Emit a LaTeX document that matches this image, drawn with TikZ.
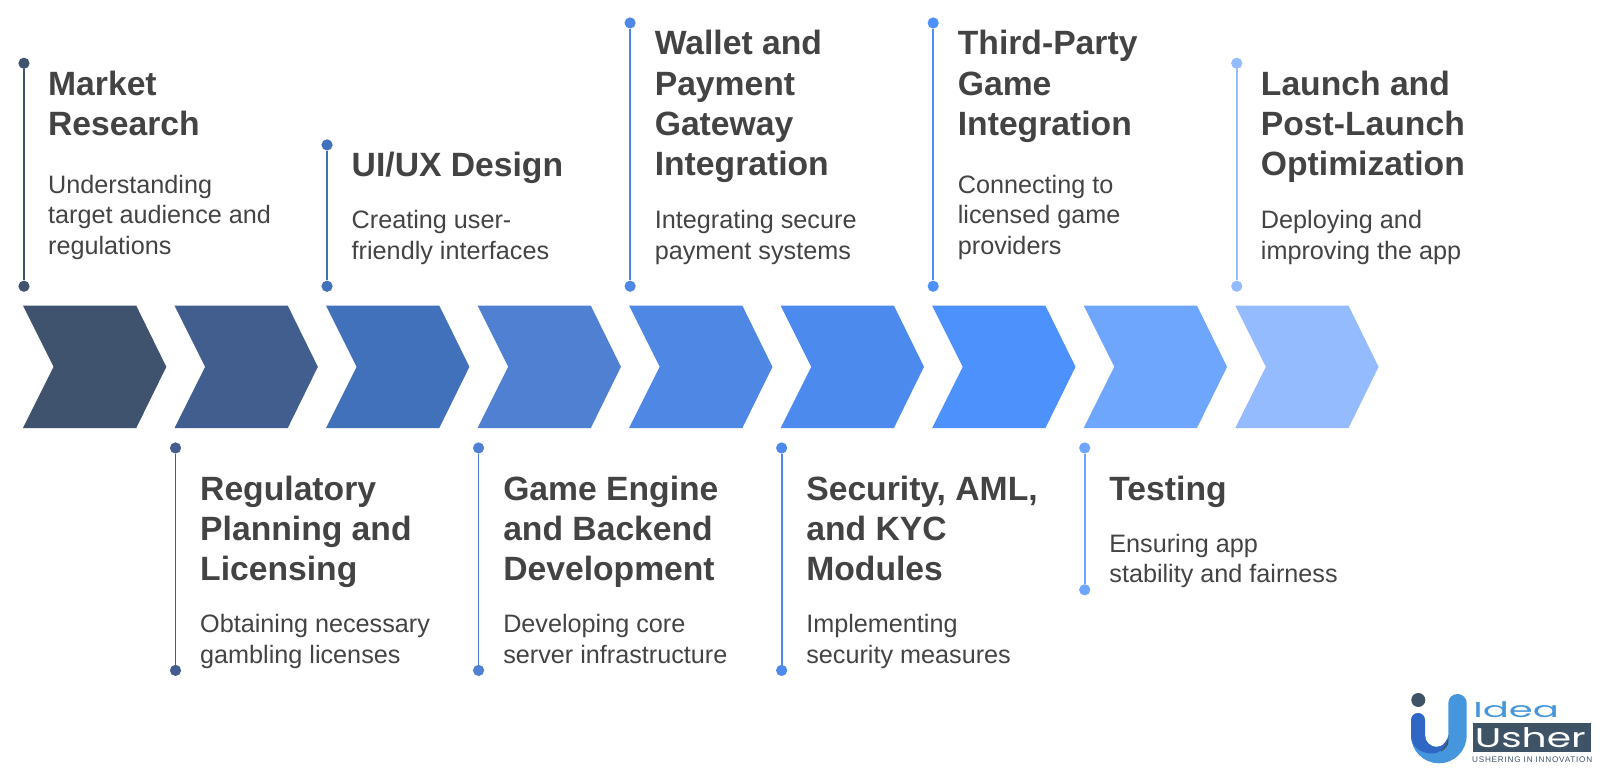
\documentclass[tikz,border=0pt]{standalone}
\usepackage{fontspec}
\setmainfont{Liberation Sans}
\newfontfamily\logofont{Poppins}
\newfontfamily\tagfont[LetterSpace=9.5]{Liberation Sans}
\usetikzlibrary{positioning}
\definecolor{cA}{HTML}{3F526E}
\definecolor{cB}{HTML}{425E8E}
\definecolor{cC}{HTML}{4271BB}
\definecolor{cD}{HTML}{5080D2}
\definecolor{cE}{HTML}{4F87E4}
\definecolor{cF}{HTML}{4C8AEE}
\definecolor{cG}{HTML}{4D91FC}
\definecolor{cH}{HTML}{6EA5FD}
\definecolor{cI}{HTML}{94BBFD}
\definecolor{txtc}{HTML}{434343}
\definecolor{logodark}{HTML}{3F5366}
\definecolor{logoblue}{HTML}{4596DC}
\definecolor{logodeep}{HTML}{3066C4}
\tikzset{
	x=1pt,y=-1pt,
	stem/.style={line width=1.8pt},
	dot/.style={circle,inner sep=0pt,minimum size=11pt},
	head/.style={anchor=north west,inner sep=0pt,align=left,font=\fontsize{33}{39.6}\selectfont\bfseries,text=txtc},
	body/.style={anchor=north west,inner sep=0pt,align=left,font=\fontsize{24.7}{29.8}\selectfont,text=txtc},
}
\newcommand{\stepchev}[2]{%
	\fill[#2] (#1,299.5) -- ++(111,0) -- ++(29.5,60) -- ++(-29.5,60) -- ++(-111,0) -- ++(30,-60) -- cycle;
}
\newcommand{\stemline}[5]{%
	\node[dot,fill=#1] (#2a) at (#3,#4) {};
	\node[dot,fill=#1] (#2b) at (#3,#5) {};
	\draw[stem,#1] (#2a) -- (#2b);
}
\begin{document}
\begin{tikzpicture}
	\useasboundingbox (0,0) rectangle (1568,754.6);
	
	\stepchev{22.5}{cA}
	\stepchev{171}{cB}
	\stepchev{319.5}{cC}
	\stepchev{468}{cD}
	\stepchev{616.5}{cE}
	\stepchev{765}{cF}
	\stepchev{913.5}{cG}
	\stepchev{1062}{cH}
	\stepchev{1210.5}{cI}
	
	\stemline{cA}{market}{23.5}{62}{280.5}
	\stemline{cB}{regul}{172}{439}{657}
	\stemline{cC}{uiux}{320.5}{142}{280.5}
	\stemline{cD}{engine}{469}{439}{657}
	\stemline{cE}{wallet}{617.5}{22.5}{280.5}
	\stemline{cF}{secur}{766}{439}{657}
	\stemline{cG}{third}{914.5}{22.5}{280.5}
	\stemline{cH}{testing}{1063}{439}{578}
	\stemline{cI}{launch}{1212}{62}{280.5}
	
	\node[head] (h1) at (47,69) {Market\\Research};
	\node[body] (b1) at (47,171.5) {Understanding\\target audience and\\regulations};
	
	\node[head] (h2) at (196,466) {Regulatory\\Planning and\\Licensing};
	\node[body] (b2) at (196,602) {Obtaining necessary\\gambling licenses};
	
	\node[head] (h3) at (344.5,148.5) {UI/UX Design};
	\node[body] (b3) at (344.5,206) {Creating user-\\friendly interfaces};
	
	\node[head] (h4) at (493,466) {Game Engine\\and Backend\\Development};
	\node[body] (b4) at (493,602) {Developing core\\server infrastructure};
	
	\node[head] (h5) at (641.5,29.5) {Wallet and\\Payment\\Gateway\\Integration};
	\node[body] (b5) at (641.5,206) {Integrating secure\\payment systems};
	
	\node[head] (h6) at (790,466) {Security, AML,\\and KYC\\Modules};
	\node[body] (b6) at (790,602) {Implementing\\security measures};
	
	\node[head] (h7) at (938.5,29.5) {Third-Party\\Game\\Integration};
	\node[body] (b7) at (938.5,171.5) {Connecting to\\licensed game\\providers};
	
	\node[head] (h8) at (1087,466) {Testing};
	\node[body] (b8) at (1087,523) {Ensuring app\\stability and fairness};
	
	\node[head] (h9) at (1235.5,69) {Launch and\\Post-Launch\\Optimization};
	\node[body] (b9) at (1235.5,206) {Deploying and\\improving the app};
	
	% logo
	\begin{scope}[scale=0.98]
		\fill[logodark] (1418.3,700) circle (7);
		\fill[logoblue] (1448.3,703) .. controls (1448.3,698) and (1452.4,694) .. (1457.5,694) .. controls (1462.6,694) and (1466.7,698) .. (1466.7,703) -- (1466.7,735.4) .. controls (1466.7,750.8) and (1454.3,763.3) .. (1439,763.3) .. controls (1423.6,763.3) and (1411,750.8) .. (1411,735.4) -- (1425,735.4) .. controls (1425,741.8) and (1430.2,747) .. (1436.7,747) .. controls (1443.1,747) and (1448.3,741.8) .. (1448.3,735.4) -- cycle;
		\fill[logodark] (1448.3,735) .. controls (1448.3,741.8) and (1443,747) .. (1436.7,747) -- (1441,751.5) .. controls (1445,749) and (1448.3,746) .. (1448.3,742) -- cycle;
		\fill[logodeep] (1411,720) .. controls (1411,716) and (1414,713) .. (1418,713) .. controls (1422,713) and (1425,716) .. (1425,720) -- (1425,735.4) .. controls (1425,741.8) and (1430.2,747) .. (1436.7,747) .. controls (1441,747) and (1445,744) .. (1447.5,738) .. controls (1445.5,748) and (1440,753.5) .. (1432,753.5) .. controls (1420,753.5) and (1411,746) .. (1411,735.4) -- cycle;
	\end{scope}
	\node[anchor=base west,inner sep=0pt,text=logoblue,xscale=1.8,font=\logofont\fontsize{21}{21}\selectfont] (logoword) at (1443.5,703) {Idea};
	\fill[logodark] (1443.3,708.8) rectangle (1558.9,737.2);
	\node[anchor=base west,inner sep=0pt,text=white,xscale=1.45,font=\logofont\fontsize{26.5}{26.5}\selectfont] (logomid) at (1445,732.5) {Usher};
	\node[anchor=base west,inner sep=0pt,text=logodark,font=\tagfont\fontsize{8}{8}\selectfont] (logolow) at (1442.5,747.5) {USHERING IN INNOVATION};
\end{tikzpicture}
\end{document}
